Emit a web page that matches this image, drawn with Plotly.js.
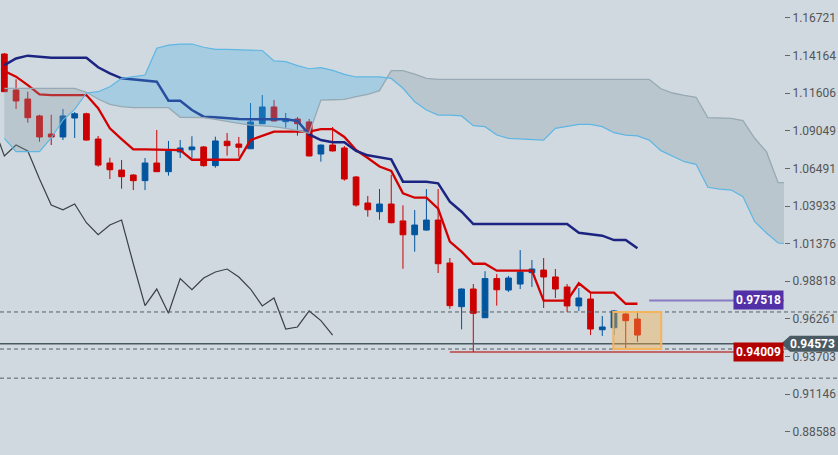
<!DOCTYPE html>
<html>
<head>
<meta charset="utf-8">
<script src="https://cdn.plot.ly/plotly-3.0.1.min.js"></script>
<style>
  html, body { margin: 0; padding: 0; background: #d0d9df; }
  #chart { width: 838px; height: 455px; }
</style>
</head>
<body>
<div id="chart"></div>
<script>
// daily candles, oldest first
const opens = [1.1427, 1.1182, 1.1121, 1.1006, 1.0883, 1.0863, 1.0992, 1.1021, 1.0849, 1.0686,
  1.0638, 1.0604, 1.0566, 1.0686, 1.0627, 1.0761, 1.0776, 1.0795, 1.0668, 1.0834,
  1.0815, 1.0783, 1.0953, 1.1067, 1.0967, 1.0985, 1.0965, 1.0747, 1.0808, 1.0788,
  1.0591, 1.0414, 1.0355, 1.0407, 1.0292, 1.0198, 1.0230, 1.0298, 1.0006, 0.9709,
  0.9829, 0.9634, 0.9900, 0.9822, 0.9863, 0.9940, 0.9958, 0.9911, 0.9843, 0.9714,
  0.9761, 0.9552, 0.9566, 0.9659, 0.9625];
const highs = [1.1434, 1.1255, 1.1171, 1.1014, 1.1014, 1.1053, 1.1033, 1.1028, 1.0870, 1.0722,
  1.0706, 1.0611, 1.0720, 1.0910, 1.0836, 1.0842, 1.0868, 1.0802, 1.0865, 1.0890,
  1.0863, 1.1094, 1.1148, 1.1114, 1.1026, 1.0999, 1.0985, 1.0812, 1.0931, 1.0802,
  1.0598, 1.0462, 1.0509, 1.0606, 1.0398, 1.0366, 1.0509, 1.0509, 1.0040, 0.9833,
  0.9863, 0.9950, 0.9931, 0.9918, 1.0094, 1.0026, 1.0040, 0.9965, 0.9863, 0.9836,
  0.9802, 0.9646, 0.9686, 0.9680, 0.9680];
const lows = [1.1169, 1.1053, 1.0960, 1.0831, 1.0808, 1.0842, 1.0856, 1.0838, 1.0661, 1.0577,
  1.0511, 1.0502, 1.0502, 1.0625, 1.0600, 1.0720, 1.0720, 1.0661, 1.0654, 1.0736,
  1.0729, 1.0781, 1.0951, 1.0968, 1.0926, 1.0872, 1.0730, 1.0695, 1.0764, 1.0566,
  1.0389, 1.0321, 1.0300, 1.0276, 0.9967, 1.0083, 1.0226, 0.9938, 0.9695, 0.9555,
  0.9401, 0.9632, 0.9716, 0.9809, 0.9829, 0.9843, 0.9700, 0.9768, 0.9673, 0.9680,
  0.9516, 0.9510, 0.9516, 0.9421, 0.9469];
const closes = [1.1171, 1.1108, 1.0994, 1.0863, 1.0863, 1.1006, 1.1021, 1.0842, 1.0672, 1.0640,
  1.0593, 1.0566, 1.0686, 1.0627, 1.0766, 1.0788, 1.0795, 1.0668, 1.0836, 1.0804,
  1.0793, 1.0965, 1.1067, 1.0972, 1.0987, 1.0953, 1.0734, 1.0808, 1.0768, 1.0577,
  1.0400, 1.0368, 1.0407, 1.0280, 1.0198, 1.0264, 1.0298, 1.0001, 0.9716, 0.9829,
  0.9664, 0.9900, 0.9824, 0.9904, 0.9945, 0.9965, 0.9911, 0.9829, 0.9714, 0.9768,
  0.9557, 0.9571, 0.9680, 0.9614, 0.9516];

// ichimoku lines
const tenkan = [1.1312, 1.1273, 1.1216, 1.1153, 1.1148, 1.1148, 1.1148, 1.1148, 1.1058, 1.0922,
  1.0849, 1.0779, 1.0779, 1.0779, 1.0779, 1.0774, 1.0708, 1.0708, 1.0708, 1.0708,
  1.0708, 1.0842, 1.0873, 1.0899, 1.0899, 1.0899, 1.0899, 1.0917, 1.0917, 1.0863,
  1.0774, 1.0720, 1.0662, 1.0632, 1.0480, 1.0450, 1.0450, 1.0375, 1.0151, 1.0083,
  1.0001, 1.0001, 0.9954, 0.9954, 0.9954, 0.9954, 0.9750, 0.9750, 0.9750, 0.9868,
  0.9804, 0.9804, 0.9804, 0.9729, 0.9729];
const kijun = [1.1352, 1.1397, 1.1416, 1.1410, 1.1402, 1.1402, 1.1402, 1.1402, 1.1337, 1.1296,
  1.1262, 1.1255, 1.1250, 1.1239, 1.1110, 1.1110, 1.1046, 1.1001, 1.0997, 1.0990,
  1.0985, 1.0983, 1.0983, 1.0983, 1.0983, 1.0972, 1.0880, 1.0842, 1.0827, 1.0827,
  1.0768, 1.0738, 1.0723, 1.0711, 1.0559, 1.0559, 1.0559, 1.0548, 1.0423, 1.0355,
  1.0271, 1.0271, 1.0271, 1.0271, 1.0271, 1.0271, 1.0271, 1.0271, 1.0271, 1.0212,
  1.0203, 1.0192, 1.0162, 1.0162, 1.0106];
// cloud runs 13 bars past the last candle (already displaced)
const senkouA = [1.0854, 1.0763, 1.0763, 1.0763, 1.0856, 1.0978, 1.1050, 1.1162, 1.1171, 1.1205,
  1.1262, 1.1274, 1.1284, 1.1466, 1.1488, 1.1495, 1.1495, 1.1473, 1.1459, 1.1458,
  1.1456, 1.1456, 1.1451, 1.1380, 1.1375, 1.1348, 1.1327, 1.1334, 1.1316, 1.1289,
  1.1271, 1.1271, 1.1271, 1.1261, 1.1194, 1.1103, 1.1046, 1.1012, 1.1012, 1.1006,
  1.0940, 1.0933, 1.0876, 1.0854, 1.0849, 1.0846, 1.0842, 1.0922, 1.0933, 1.0949,
  1.0949, 1.0933, 1.0892, 1.0876, 1.0870, 1.0842, 1.0770, 1.0734, 1.0695, 1.0677,
  1.0521, 1.0509, 1.0502, 1.0457, 1.0287, 1.0210, 1.0142, 1.0135];
const senkouB = [1.1194, 1.1194, 1.1194, 1.1194, 1.1194, 1.1194, 1.1193, 1.1167, 1.1121, 1.1085,
  1.1070, 1.1062, 1.1062, 1.1062, 1.1062, 1.0997, 1.0995, 1.0994, 1.0982, 1.0967,
  1.0956, 1.0944, 1.0940, 1.0933, 1.0921, 1.0908, 1.0888, 1.1114, 1.1116, 1.1119,
  1.1138, 1.1152, 1.1178, 1.1314, 1.1314, 1.1291, 1.1262, 1.1255, 1.1255, 1.1255,
  1.1255, 1.1255, 1.1255, 1.1255, 1.1255, 1.1255, 1.1255, 1.1255, 1.1255, 1.1255,
  1.1255, 1.1255, 1.1255, 1.1255, 1.1255, 1.1255, 1.1191, 1.1162, 1.1146, 1.1133,
  1.0995, 1.0990, 1.0990, 1.0974, 1.0854, 1.0763, 1.0552, 1.0552];

const tickVals = [0.88588, 0.91146, 0.93703, 0.96261, 0.98818, 1.01376, 1.03933, 1.06491, 1.09049, 1.11606, 1.14164, 1.16721];
const dashLevels = [0.9673, 0.9421, 0.9223];
const lastPrice = 0.94573;
const resistLevel = 0.97518;
const supportLevel = 0.94009;

const bars = closes.map((c, i) => i);
const cloudX = senkouA.map((v, i) => i);
const lag = 26;
// chikou = close plotted 26 bars back
const chikouX = bars.slice(lag - 1).map(i => i - lag);
const chikouY = closes.slice(lag - 1);

function cloudSegments(a, b) {
    /** split the cloud where the spans cross */
    const segs = [];
    let cur = null;
    for (let i = 0; i < a.length; i++) {
        const up = a[i] >= b[i];
        if (cur && up !== cur.up) {
            const d0 = a[i - 1] - b[i - 1], d1 = a[i] - b[i];
            const t = d0 / (d0 - d1);
            const xc = i - 1 + t, vc = a[i - 1] + t * (a[i] - a[i - 1]);
            cur.x.push(xc); cur.a.push(vc); cur.b.push(vc);
            segs.push(cur);
            cur = {up: up, x: [xc], a: [vc], b: [vc]};
        }
        if (!cur) cur = {up: up, x: [], a: [], b: []};
        cur.x.push(i); cur.a.push(a[i]); cur.b.push(b[i]);
    }
    segs.push(cur);
    return segs;
}

const traces = [];
traces.push({
    type: 'candlestick',
    x: bars, open: opens, high: highs, low: lows, close: closes,
    increasing: {line: {color: '#00559f', width: 1}, fillcolor: '#00559f'},
    decreasing: {line: {color: '#cc0000', width: 1}, fillcolor: '#cc0000'},
    whiskerwidth: 0,
    hoverinfo: 'skip'
});
traces.push({x: chikouX, y: chikouY, type: 'scatter', mode: 'lines',
    line: {color: '#3a4046', width: 1.2}});
traces.push({x: bars, y: tenkan, type: 'scatter', mode: 'lines',
    line: {color: '#d20000', width: 2.3}});
traces.push({x: bars, y: kijun, type: 'scatter', mode: 'lines',
    line: {color: '#1c2481', width: 2.5}});

cloudSegments(senkouA, senkouB).forEach(seg => {
    traces.push({
        x: seg.x.concat(seg.x.slice().reverse()),
        y: seg.a.concat(seg.b.slice().reverse()),
        type: 'scatter', mode: 'lines', fill: 'toself',
        fillcolor: seg.up ? 'rgba(68,177,233,0.3)' : 'rgba(131,157,170,0.3)',
        line: {width: 0}
    });
});
traces.push({x: cloudX, y: senkouB, type: 'scatter', mode: 'lines',
    line: {color: '#97a9b3', width: 1.3}});
traces.push({x: cloudX, y: senkouA, type: 'scatter', mode: 'lines',
    line: {color: '#5fb6e4', width: 1.2}});

const shapes = dashLevels.map(lv => ({
    type: 'line', xref: 'paper', yref: 'y', x0: 0, x1: 1.07, y0: lv, y1: lv,
    line: {color: '#555d66', width: 1, dash: '4px,3px'}
}));
shapes.push({type: 'line', xref: 'paper', yref: 'y', x0: 0, x1: 1, y0: lastPrice, y1: lastPrice,
    line: {color: '#4a5a63', width: 1.5}});
shapes.push({type: 'line', xref: 'x', yref: 'y', x0: 38, x1: 66.5, y0: supportLevel, y1: supportLevel,
    line: {color: 'rgba(185,25,25,0.6)', width: 2}});
shapes.push({type: 'line', xref: 'x', yref: 'y', x0: 55, x1: 66.5, y0: resistLevel, y1: resistLevel,
    line: {color: 'rgba(90,60,180,0.6)', width: 2}});
// highlighted zone around the last bars
shapes.push({type: 'rect', xref: 'x', yref: 'y', x0: 51.94, x1: 56.03, y0: dashLevels[1], y1: dashLevels[0],
    fillcolor: 'rgba(245,175,70,0.4)', line: {color: '#f4b45c', width: 2}});
// current price tag
shapes.push({type: 'path', xref: 'paper', yref: 'y', xsizemode: 'pixel', xanchor: 1,
    ysizemode: 'pixel', yanchor: lastPrice,
    path: 'M -3,0 L 6,8 L 56,8 L 56,-8 L 6,-8 Z',
    fillcolor: '#4a5a63', line: {width: 0}});

const annotations = [
    {xref: 'paper', x: 1, xanchor: 'right', yref: 'y', y: resistLevel, showarrow: false,
        text: '<b>' + resistLevel.toFixed(5) + '</b>', bgcolor: '#5230a8', borderpad: 2,
        font: {family: 'Roboto', size: 12, color: '#ffffff'}},
    {xref: 'paper', x: 1, xanchor: 'right', yref: 'y', y: supportLevel, showarrow: false,
        text: '<b>' + supportLevel.toFixed(5) + '</b>', bgcolor: '#b30000', borderpad: 2,
        font: {family: 'Roboto', size: 12, color: '#ffffff'}},
    {xref: 'paper', x: 1, xanchor: 'left', xshift: 4, yref: 'y', y: lastPrice, showarrow: false,
        text: '<b>' + lastPrice.toFixed(5) + '</b>',
        font: {family: 'Roboto', size: 12, color: '#ffffff'}}
];

const layout = {
    width: 838, height: 455,
    margin: {l: 0, r: 54, t: 0, b: 0},
    paper_bgcolor: '#d0d9df',
    plot_bgcolor: '#d0d9df',
    showlegend: false,
    hovermode: false,
    xaxis: {range: [-0.37, 66.5], visible: false, rangeslider: {visible: false}, fixedrange: true},
    yaxis: {
        side: 'right', range: [0.87004, 1.17944],
        tickvals: tickVals, ticktext: tickVals.map(v => v.toFixed(5)),
        ticks: 'outside', ticklen: 5, tickcolor: '#666',
        tickfont: {family: 'Roboto', size: 12, color: '#555'},
        showgrid: false, zeroline: false, showline: false, fixedrange: true
    },
    shapes: shapes,
    annotations: annotations
};

Plotly.newPlot('chart', traces, layout, {displayModeBar: false});
</script>
</body>
</html>
